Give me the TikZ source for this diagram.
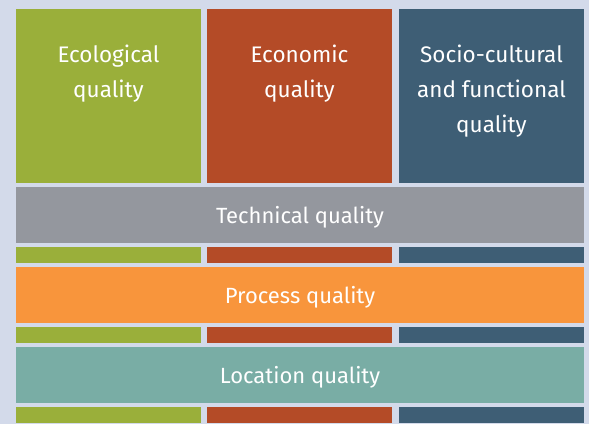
\documentclass[tikz,border=0pt]{standalone}
\usepackage{fontspec}
\setmainfont{Fira Sans}
\usetikzlibrary{positioning}
\definecolor{bgcol}{RGB}{211,218,234}
\definecolor{ecogreen}{RGB}{154,175,58}
\definecolor{econred}{RGB}{180,75,39}
\definecolor{socblue}{RGB}{62,94,117}
\definecolor{techgrey}{RGB}{148,151,158}
\definecolor{procorange}{RGB}{248,149,60}
\definecolor{locteal}{RGB}{121,173,165}
\tikzstyle{column} = [minimum width=185pt, minimum height=174pt, inner sep=0,
  outer sep=0pt]
\tikzstyle{strip} = [minimum width=185pt, minimum height=16pt, inner sep=0,
  outer sep=0pt]
\tikzstyle{bar} = [minimum width=568pt, minimum height=56pt, inner sep=0,
  outer sep=0pt, text=white, text height=16pt, text depth=0pt,
  font=\fontsize{22}{22}\selectfont]
\tikzstyle{coltext} = [text=white, align=center, inner sep=0,
  font=\fontsize{22.5}{35}\selectfont]

\begin{document}
\begin{tikzpicture}[x=1pt, y=-1pt]
    \fill[bgcol] (0,0) rectangle (589,424);
    \useasboundingbox (0,0) rectangle (589,424);

    % the three pillars
    \node[column, fill=ecogreen, anchor=north west] (eco) at (16,9) {};
    \node[column, fill=econred, right = 6pt of eco.north east, anchor=north west]
    (econ) {};
    \node[column, fill=socblue, right = 7pt of econ.north east, anchor=north west]
    (soc) {};

    \node[coltext, below = 36pt of eco.north, anchor=north] (ecotxt)
    {Ecological\\quality};
    \node[coltext, below = 36pt of econ.north, anchor=north] (econtxt)
    {Economic\\quality};
    \node[coltext, below = 36pt of soc.north, anchor=north] (soctxt)
    {Socio-cultural\\and functional\\quality};

    % cross-cutting bars
    \node[bar, fill=techgrey, below = 4pt of eco.south west, anchor=north west]
    (tech) {Technical quality};

    \node[strip, fill=ecogreen, below = 4pt of tech.south west, anchor=north west]
    (s1eco) {};
    \node[strip, fill=econred, right = 6pt of s1eco.north east, anchor=north west]
    (s1econ) {};
    \node[strip, fill=socblue, right = 7pt of s1econ.north east, anchor=north west]
    (s1soc) {};

    \node[bar, fill=procorange, below = 4pt of s1eco.south west, anchor=north west]
    (proc) {Process quality};

    \node[strip, fill=ecogreen, below = 4pt of proc.south west, anchor=north west]
    (s2eco) {};
    \node[strip, fill=econred, right = 6pt of s2eco.north east, anchor=north west]
    (s2econ) {};
    \node[strip, fill=socblue, right = 7pt of s2econ.north east, anchor=north west]
    (s2soc) {};

    \node[bar, fill=locteal, below = 4pt of s2eco.south west, anchor=north west]
    (loc) {Location quality};

    \node[strip, fill=ecogreen, below = 4pt of loc.south west, anchor=north west]
    (s3eco) {};
    \node[strip, fill=econred, right = 6pt of s3eco.north east, anchor=north west]
    (s3econ) {};
    \node[strip, fill=socblue, right = 7pt of s3econ.north east, anchor=north west]
    (s3soc) {};
\end{tikzpicture}
\end{document}
